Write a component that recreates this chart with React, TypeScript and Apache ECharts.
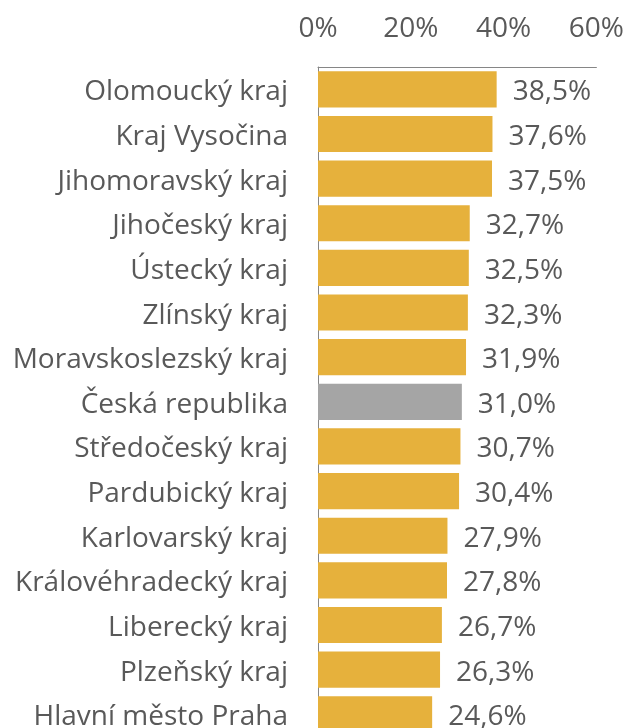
import React, { useEffect, useRef } from "react";
import * as echarts from "echarts";

const categories = [
  "Olomoucký kraj",
  "Kraj Vysočina",
  "Jihomoravský kraj",
  "Jihočeský kraj",
  "Ústecký kraj",
  "Zlínský kraj",
  "Moravskoslezský kraj",
  "Česká republika",
  "Středočeský kraj",
  "Pardubický kraj",
  "Karlovarský kraj",
  "Královéhradecký kraj",
  "Liberecký kraj",
  "Plzeňský kraj",
  "Hlavní město Praha",
];
const values = [38.5, 37.6, 37.5, 32.7, 32.5, 32.3, 31.9, 31.0, 30.7, 30.4, 27.9, 27.8, 26.7, 26.3, 24.6];
const highlight = "Česká republika";

const GOLD = "#E6B13C";
const GREY = "#A5A5A5";
const TEXT = "#595959";
const FONT = "Open Sans";

export default function App() {
  const ref = useRef<HTMLDivElement>(null);
  useEffect(() => {
    if (!ref.current) return;
    const chart = echarts.init(ref.current, undefined, { renderer: "svg" });
    chart.setOption({
      animation: false,
      grid: { left: 318, top: 67, width: 279, height: 669.6, containLabel: false },
      xAxis: {
        type: "value",
        position: "top",
        min: 0,
        max: 60,
        interval: 20,
        axisLine: { show: true, lineStyle: { color: "#868686", width: 1 } },
        axisTick: { show: false },
        splitLine: { show: false },
        axisLabel: {
          formatter: "{value}%",
          color: TEXT,
          fontFamily: FONT,
          fontSize: 28,
          margin: 27,
        },
      },
      yAxis: {
        type: "category",
        data: categories,
        inverse: true,
        axisLine: { show: true, lineStyle: { color: "#868686", width: 1 } },
        axisTick: { show: false },
        axisLabel: {
          color: TEXT,
          fontFamily: FONT,
          fontSize: 28,
          margin: 30,
        },
      },
      series: [
        {
          type: "bar",
          data: values.map((v, i) => ({
            value: v,
            itemStyle: { color: categories[i] === highlight ? GREY : GOLD },
          })),
          barCategoryGap: "19%",
          label: {
            show: true,
            position: "right",
            distance: 16,
            color: TEXT,
            fontFamily: FONT,
            fontSize: 28,
            formatter: (p: any) => p.value.toFixed(1).replace(".", ",") + "%",
          },
        },
      ],
    });
    return () => chart.dispose();
  }, []);
  return (
    <div
      ref={ref}
      style={{ position: "fixed", left: 0, top: 0, width: 627, height: 760 }}
    />
  );
}
